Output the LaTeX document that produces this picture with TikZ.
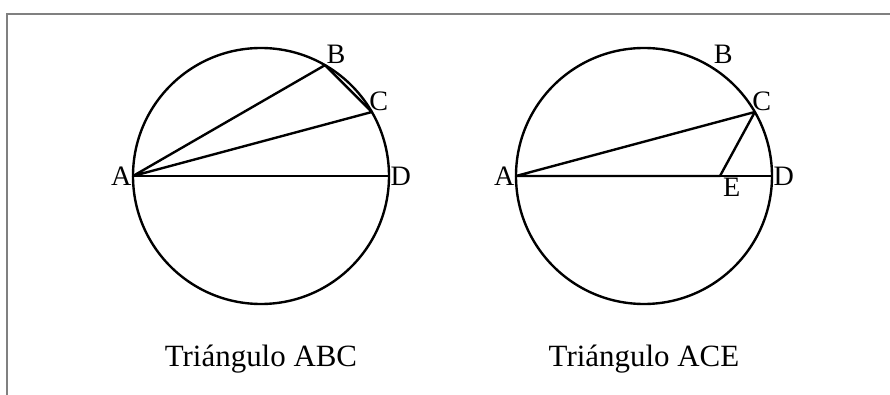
\documentclass[tikz,border=0pt]{standalone}
\usepackage{fontspec}
\setmainfont{Liberation Serif}
\usetikzlibrary{positioning, calc}

\begin{document}
\begin{tikzpicture}[
  x=0.025cm, y=0.025cm,
  circ/.style={line width=1.7pt, black},
  seg/.style={line width=1.7pt, black, line join=round},
  fino/.style={line width=0.8pt, black},
  lbl/.style={font=\fontsize{20}{23}\selectfont, inner sep=1pt},
  titulo/.style={font=\fontsize{22}{26}\selectfont, inner sep=0pt}
]
\useasboundingbox (0,0) rectangle (890,395);
\draw[gray, line width=1pt] (7,0) -- (7,381) -- (890,381);

% triangulo ABC
\coordinate (O1) at (261,219);
\coordinate (A1) at ($(O1)+(180:128)$);
\coordinate (B1) at ($(O1)+(60:128)$);
\coordinate (C1) at ($(O1)+(30:128)$);
\coordinate (D1) at ($(O1)+(0:128)$);
\draw[circ] (O1) circle[radius=128];
\draw[seg] (A1) -- (B1) -- (C1) -- cycle;
\draw[fino] (A1) -- (D1);
\node[lbl, anchor=east] (la1) at (A1) {A};
\node[lbl, anchor=south west] (lb1) at (B1) {B};
\node[lbl, anchor=south west, xshift=-3pt] (lc1) at (C1) {C};
\node[lbl, anchor=west] (ld1) at (D1) {D};
\node[titulo, anchor=base] (t1) at (261,28) {Triángulo ABC};

% triangulo ACE
\coordinate (O2) at (644,219);
\coordinate (A2) at ($(O2)+(180:128)$);
\coordinate (B2) at ($(O2)+(60:128)$);
\coordinate (C2) at ($(O2)+(30:128)$);
\coordinate (D2) at ($(O2)+(0:128)$);
\coordinate (E2) at ($(O2)+(76,0)$);
\draw[circ] (O2) circle[radius=128];
\draw[seg] (E2) -- (A2) -- (C2) -- cycle;
\draw[fino] (E2) -- (D2);
\node[lbl, anchor=east] (la2) at (A2) {A};
\node[lbl, anchor=south west, xshift=3pt] (lb2) at (B2) {B};
\node[lbl, anchor=south west, xshift=-3pt] (lc2) at (C2) {C};
\node[lbl, anchor=west] (ld2) at (D2) {D};
\node[lbl, anchor=north west, xshift=1pt] (le2) at (E2) {E};
\node[titulo, anchor=base] (t2) at (644,28) {Triángulo ACE};
\end{tikzpicture}
\end{document}
